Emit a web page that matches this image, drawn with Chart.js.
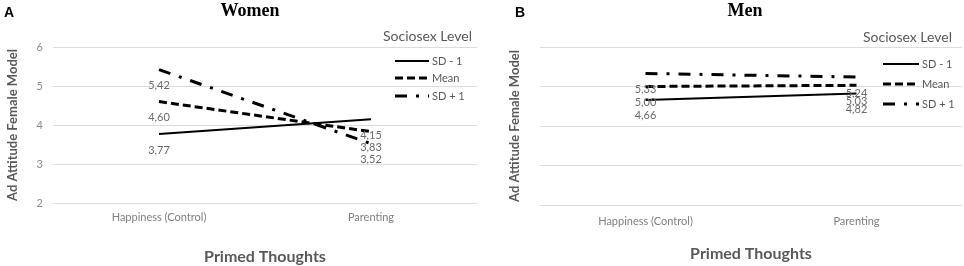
<!DOCTYPE html>
<html>
<head>
<meta charset="utf-8">
<script src="https://cdn.jsdelivr.net/npm/chart.js@4.4.0/dist/chart.umd.min.js"></script>
<style>
  html, body { margin: 0; padding: 0; background: #fff; }
  body { width: 964px; height: 266px; position: relative; overflow: hidden; }
  .panel { position: absolute; top: 0; width: 482px; height: 266px; }
  .letter { position: absolute; top: 4px; font: bold 14px "Liberation Sans", Arial, sans-serif; color: #000; }
</style>
</head>
<body>
<div class="panel" style="left:0"><canvas id="cA" width="482" height="266"></canvas></div>
<div class="panel" style="left:482px"><canvas id="cB" width="482" height="266"></canvas></div>
<div class="letter" style="left:4px">A</div>
<div class="letter" style="left:515px">B</div>
<script>
// ---- data ----
const categories = ["Happiness (Control)", "Parenting"];
const seriesNames = ["SD - 1", "Mean", "SD + 1"];
const legendTitle = "Sociosex Level";
const womenSD_minus1 = [3.77, 4.15];
const womenMean = [4.60, 3.83];
const womenSD_plus1 = [5.42, 3.52];
const menSD_minus1 = [4.66, 4.82];
const menMean = [5.00, 5.03];
const menSD_plus1 = [5.33, 5.24];
const yTicks = [2, 3, 4, 5, 6];
const xTitle = "Primed Thoughts";
const yTitle = "Ad Attitude Female Model";

const FONT = "Lato, 'Open Sans', sans-serif";
const dashes = [[], [8, 4], [12, 9, 3, 9]];
const widths = [2, 3, 3];

function makeDatasets(vals) {
  return vals.map((v, i) => ({
    label: seriesNames[i],
    data: v,
    borderColor: '#000',
    backgroundColor: '#000',
    borderWidth: widths[i],
    borderDash: dashes[i],
    borderCapStyle: 'butt',
    pointRadius: 0,
    pointHoverRadius: 0,
    tension: 0
  }));
}

const valueLabels = {
  id: 'valueLabels',
  afterDatasetsDraw(chart) {
    const ctx = chart.ctx;
    ctx.save();
    ctx.font = "11px " + FONT;
    ctx.fillStyle = '#6a6a6a';
    ctx.textAlign = 'center';
    ctx.textBaseline = 'middle';
    chart.data.datasets.forEach((ds, di) => {
      const meta = chart.getDatasetMeta(di);
      meta.data.forEach((pt, i) => {
        const v = ds.data[i];
        ctx.fillText(v.toFixed(2).replace('.', ','), pt.x, pt.y + 16);
      });
    });
    ctx.restore();
  }
};

function customLegend(cfg) {
  return {
    id: 'customLegend',
    afterDraw(chart) {
      const ctx = chart.ctx;
      ctx.save();
      ctx.font = "14px " + FONT;
      ctx.fillStyle = '#595959';
      ctx.textAlign = 'right';
      ctx.textBaseline = 'middle';
      ctx.fillText(legendTitle, cfg.titleRight, cfg.titleY);
      ctx.font = "11px " + FONT;
      ctx.textAlign = 'left';
      chart.data.datasets.forEach((ds, i) => {
        const y = cfg.ys[i];
        ctx.strokeStyle = '#000';
        ctx.lineWidth = ds.borderWidth;
        ctx.setLineDash(ds.borderDash);
        ctx.beginPath();
        ctx.moveTo(cfg.x1, y);
        ctx.lineTo(cfg.x2, y);
        ctx.stroke();
        ctx.setLineDash([]);
        ctx.fillStyle = '#595959';
        ctx.fillText(ds.label, cfg.x2 + 3, y);
      });
      ctx.restore();
    }
  };
}

function makeChart(id, title, vals, L) {
  return new Chart(document.getElementById(id), {
    type: 'line',
    data: { labels: categories, datasets: makeDatasets(vals) },
    plugins: [valueLabels, customLegend(L.legend)],
    options: {
      responsive: false,
      animation: false,
      devicePixelRatio: 1,
      layout: { padding: { left: L.padLeft, right: L.padRight, top: 0, bottom: 0 } },
      plugins: {
        legend: { display: false },
        tooltip: { enabled: false },
        title: {
          display: true,
          text: title,
          color: '#000',
          font: { family: "'Liberation Serif', 'DejaVu Serif', serif", size: 18, weight: 'bold' },
          padding: { top: 1, bottom: L.titleBottom }
        }
      },
      scales: {
        x: {
          offset: true,
          grid: { display: false, drawTicks: false },
          border: { display: false },
          ticks: { color: '#7f7f7f', font: { family: FONT, size: 11 }, padding: L.xTickPad, maxRotation: 0 },
          title: { display: true, text: xTitle, color: '#595959', font: { family: FONT, size: 16, weight: 'bold' }, padding: { top: 0, bottom: L.xTitlePad } },
          afterFit(s) { s.height = L.xHeight; }
        },
        y: {
          min: 2, max: 6,
          afterBuildTicks(s) { s.ticks = yTicks.map(v => ({ value: v })); },
          grid: { color: '#dcdcdc', lineWidth: 1, drawTicks: false },
          border: { display: false },
          ticks: { color: '#8c8c8c', font: { family: FONT, size: 11 }, padding: L.yTickPad },
          title: { display: true, text: yTitle, color: '#595959', font: { family: FONT, size: 13, weight: 'bold' }, padding: { top: L.yTitlePad, bottom: 0 } },
          afterFit(s) { s.width = L.yWidth; }
        }
      }
    }
  });
}

makeChart('cA', 'Women', [womenSD_minus1, womenMean, womenSD_plus1], {
  padLeft: 23, padRight: 5, titleBottom: 24.4,
  xTickPad: 8, xTitlePad: 0, xHeight: 63,
  yTickPad: 10, yTitlePad: -18, yWidth: 30,
  legend: { titleRight: 472, titleY: 36, x1: 395, x2: 429, ys: [61, 78, 96] }
});
makeChart('cB', 'Men', [menSD_minus1, menMean, menSD_plus1], {
  padLeft: 46, padRight: 2, titleBottom: 24.4,
  xTickPad: 9.5, xTitlePad: 2.6, xHeight: 61,
  yTickPad: 12, yTitlePad: -21, yWidth: 12,
  legend: { titleRight: 470, titleY: 37, x1: 401, x2: 437, ys: [64, 84, 104] }
});
</script>
</body>
</html>
